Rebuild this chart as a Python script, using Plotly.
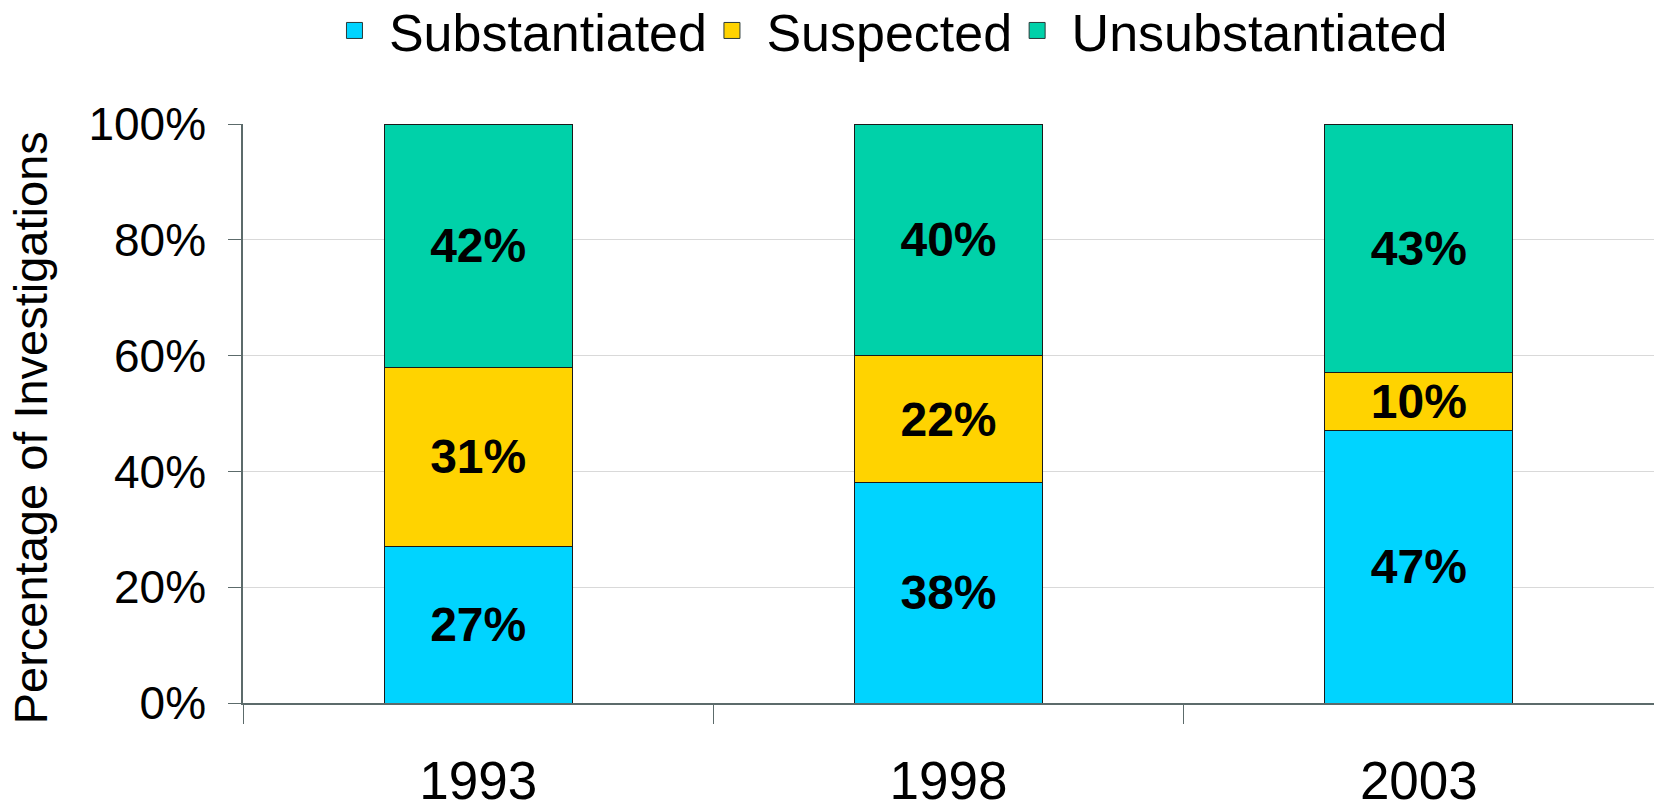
import plotly.graph_objects as go

years = ["1993", "1998", "2003"]
substantiated = [27, 38, 47]
suspected = [31, 22, 10]
unsubstantiated = [42, 40, 43]
series_names = ["Substantiated", "Suspected", "Unsubstantiated"]
colors = ["#00D4FF", "#FFD300", "#00D1A9"]
y_ticks = [0, 20, 40, 60, 80, 100]
y_tick_text = ["0%", "20%", "40%", "60%", "80%", "100%"]
y_title = "Percentage of Investigations"

FONT = "Arial, 'Liberation Sans', sans-serif"

fig = go.Figure()
for name, vals, col in zip(series_names, [substantiated, suspected, unsubstantiated], colors):
    fig.add_trace(go.Bar(
        x=years, y=vals, name=name, legendgroup=name, showlegend=False,
        marker=dict(color=col, line=dict(color="#1a1a1a", width=1)),
        text=[f"{v}%" for v in vals],
        textposition="inside", insidetextanchor="middle",
        textangle=0, constraintext="none",
        textfont=dict(family=FONT, size=48, color="black", weight="bold"),
        width=0.4,
    ))
# legend entries with larger square swatches
for name, col in zip(series_names, colors):
    fig.add_trace(go.Scatter(
        x=[None], y=[None], mode="markers", name="\u00a0" + name, legendgroup=name,
        marker=dict(symbol="square", size=22, color=col, line=dict(color="#2a3a3a", width=1)),
        showlegend=True,
    ))

fig.update_layout(
    barmode="stack",
    width=1654, height=807,
    margin=dict(l=243, r=0, t=124, b=104, autoexpand=False),
    paper_bgcolor="white", plot_bgcolor="white",
    font=dict(family=FONT, color="black"),
    legend=dict(
        orientation="h", x=0.461, xanchor="center",
        yref="container", y=0.962, yanchor="middle",
        font=dict(family=FONT, size=52, color="black"),
        traceorder="normal", itemclick=False, itemwidth=30,
    ),
    showlegend=True,
    annotations=[dict(
        text=y_title, textangle=-90, xref="paper", yref="paper",
        x=-0.150, y=0.475, xanchor="center", yanchor="middle", showarrow=False,
        font=dict(family=FONT, size=47, color="black"),
    )],
)
fig.update_xaxes(
    type="category", range=[-0.5, 2.5], automargin=False,
    showline=True, linecolor="#5c6b6b", linewidth=1.5,
    ticks="outside", tickson="boundaries", ticklen=19, tickcolor="#5c6b6b",
    tickfont=dict(family=FONT, size=53, color="black"),
    ticklabelstandoff=31,
    showgrid=False,
)
fig.update_yaxes(
    range=[0, 100], tickvals=y_ticks, ticktext=y_tick_text, automargin=False,
    showline=True, linecolor="#5c6b6b", linewidth=1.5,
    ticks="outside", ticklen=13, tickcolor="#5c6b6b",
    tickfont=dict(family=FONT, size=46, color="black"),
    ticklabelstandoff=13,
    showgrid=True, gridcolor="#d9d9d9", gridwidth=1,
    zeroline=False,
)
fig.write_html(
    "out.html",
    config={"displayModeBar": False},
    post_script="document.body.style.margin='0';document.body.style.overflow='hidden';",
)
